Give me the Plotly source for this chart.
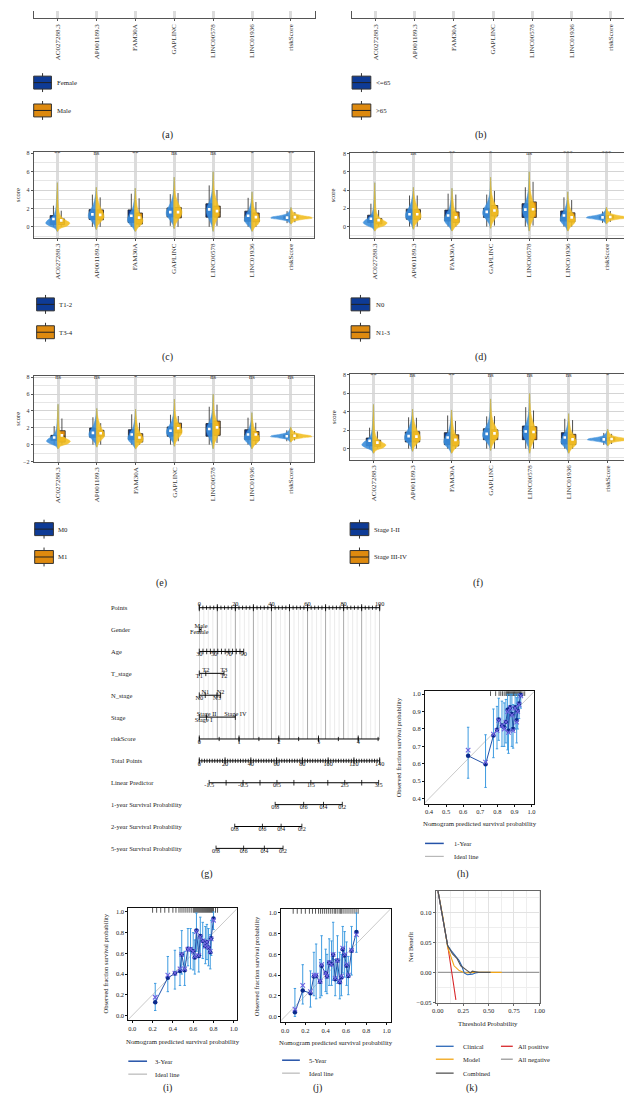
import plotly.graph_objects as go
import numpy as np

W, H = 632, 1093
FONT = "Liberation Serif"

# ---------------- data ----------------
genes = ["AC027288.3", "AP001189.3", "FAM30A", "GAPLINC", "LINC00578", "LINC01936", "riskScore"]

legend_a = ["Female", "Male"]
legend_b = ["<=65", ">65"]
legend_c = ["T1-2", "T3-4"]
legend_d = ["N0", "N1-3"]
legend_e = ["M0", "M1"]
legend_f = ["Stage I-II", "Stage III-IV"]

sig_c = ["**", "ns", "**", "ns", "ns", "*", "**"]
sig_d = ["**", "ns", "**", "*", "ns", "***", "***"]
sig_e = ["ns", "ns", "*", "*", "ns", "ns", "ns"]
sig_f = ["**", "ns", "**", "ns", "ns", "ns", "*"]

# box stats per gene: [lower whisker, q1, median, q3, upper whisker, mean]
box_c1 = [[0.0, 0.25, 0.8, 1.22, 2.3, 0.85], [0.0, 0.8, 1.4, 1.87, 3.5, 1.35], [0.0, 0.47, 1.2, 1.84, 3.6, 1.2],
          [0.1, 1.08, 1.55, 2.05, 3.55, 1.6], [0.0, 1.05, 1.95, 2.5, 4.5, 1.9], [0.0, 0.6, 1.25, 1.7, 3.15, 1.2],
          [0.4, 0.85, 1.0, 1.15, 1.7, 1.0]]
box_c2 = [[0.0, 0.25, 0.5, 0.86, 1.75, 0.7], [0.0, 0.76, 1.3, 1.84, 3.2, 1.3], [0.0, 0.3, 0.8, 1.5, 3.1, 1.0],
          [0.0, 0.97, 1.6, 2.1, 3.67, 1.6], [0.1, 1.05, 1.6, 2.25, 4.0, 1.7], [0.0, 0.55, 1.0, 1.5, 2.7, 1.05],
          [0.5, 0.9, 1.05, 1.2, 1.6, 1.05]]
box_d1 = [[0.0, 0.44, 0.8, 1.24, 2.5, 0.85], [0.0, 0.8, 1.38, 1.9, 3.4, 1.35], [0.0, 0.6, 1.2, 1.8, 3.6, 1.2],
          [0.0, 1.0, 1.6, 2.0, 3.5, 1.6], [0.0, 1.0, 1.95, 2.5, 4.3, 1.85], [0.0, 0.6, 1.25, 1.7, 3.2, 1.2],
          [0.4, 0.85, 1.0, 1.15, 1.65, 1.0]]
box_d2 = [[0.0, 0.29, 0.6, 0.87, 1.8, 0.7], [0.0, 0.8, 1.3, 1.85, 3.4, 1.35], [0.0, 0.45, 0.85, 1.6, 3.5, 1.0],
          [0.1, 1.15, 1.7, 2.3, 3.9, 1.75], [0.1, 1.0, 1.7, 2.7, 4.9, 1.9], [0.0, 0.5, 1.0, 1.5, 2.9, 1.0],
          [0.5, 0.9, 1.05, 1.2, 1.7, 1.05]]
box_e1 = [[0.0, 0.5, 0.8, 1.1, 2.2, 0.85], [0.0, 0.87, 1.4, 1.97, 3.25, 1.4], [0.0, 0.6, 1.2, 1.77, 3.6, 1.2],
          [0.0, 1.0, 1.65, 2.1, 3.55, 1.65], [0.0, 1.0, 1.9, 2.5, 4.5, 1.85], [0.0, 0.6, 1.2, 1.77, 3.2, 1.2],
          [0.4, 0.85, 1.0, 1.15, 1.7, 1.0]]
box_e2 = [[0.0, 0.3, 1.0, 1.65, 3.1, 1.1], [0.0, 1.0, 1.35, 1.7, 2.55, 1.35], [0.0, 0.3, 0.6, 1.3, 2.6, 0.85],
          [0.4, 1.4, 2.0, 2.55, 3.4, 1.95], [0.2, 1.1, 2.0, 2.8, 4.75, 2.05], [0.0, 0.47, 1.2, 1.55, 2.6, 1.2],
          [0.5, 0.9, 1.05, 1.2, 1.6, 1.05]]
box_f1 = [[0.0, 0.29, 0.72, 1.15, 2.27, 0.85], [0.0, 0.72, 1.33, 1.8, 3.4, 1.35], [0.0, 0.43, 1.19, 1.73, 3.6, 1.2],
          [0.0, 0.97, 1.6, 2.16, 3.5, 1.6], [0.0, 0.97, 1.87, 2.45, 4.5, 1.85], [0.0, 0.5, 1.2, 1.73, 3.24, 1.2],
          [0.4, 0.85, 1.0, 1.15, 1.7, 1.0]]
box_f2 = [[0.0, 0.25, 0.5, 0.9, 1.87, 0.65], [0.0, 0.72, 1.26, 1.84, 3.35, 1.3], [0.0, 0.29, 0.9, 1.5, 3.0, 0.95],
          [0.0, 0.97, 1.66, 2.05, 3.53, 1.65], [0.0, 0.97, 1.7, 2.38, 4.14, 1.8], [0.0, 0.43, 1.08, 1.55, 3.1, 1.0],
          [0.5, 0.9, 1.05, 1.2, 1.6, 1.05]]

# half-violin outlines per gene: score knots and half widths (category units)
vio_y = [[-0.5, -0.2, 0.1, 0.4, 0.7, 1.0, 1.4, 2.0, 3.0, 4.0, 4.8],
         [-0.3, 0.2, 0.6, 1.0, 1.4, 1.8, 2.4, 3.0, 3.6, 4.3],
         [-0.5, -0.1, 0.3, 0.7, 1.1, 1.5, 2.0, 2.8, 3.6, 4.2],
         [-0.2, 0.3, 0.8, 1.3, 1.7, 2.2, 2.8, 3.5, 4.3, 5.4],
         [-0.5, 0.2, 0.8, 1.4, 1.9, 2.4, 3.0, 3.8, 4.8, 6.0],
         [-0.5, -0.1, 0.3, 0.7, 1.1, 1.5, 2.0, 2.6, 3.2, 3.8],
         [0.3, 0.6, 0.8, 0.95, 1.05, 1.2, 1.4, 1.7, 2.1]]
vio_w1 = [[0, 0.05, 0.2, 0.3, 0.25, 0.15, 0.08, 0.04, 0.02, 0.008, 0],
          [0, 0.05, 0.12, 0.2, 0.2, 0.15, 0.08, 0.04, 0.015, 0],
          [0, 0.06, 0.15, 0.2, 0.18, 0.13, 0.07, 0.03, 0.01, 0],
          [0, 0.04, 0.12, 0.2, 0.2, 0.14, 0.07, 0.03, 0.012, 0],
          [0, 0.04, 0.1, 0.16, 0.17, 0.13, 0.07, 0.03, 0.012, 0],
          [0, 0.05, 0.14, 0.2, 0.18, 0.13, 0.07, 0.03, 0.01, 0],
          [0, 0.08, 0.3, 0.52, 0.5, 0.3, 0.12, 0.04, 0]]
vio_w2 = [[0, 0.06, 0.25, 0.32, 0.22, 0.12, 0.06, 0.03, 0.015, 0.006, 0],
          [0, 0.05, 0.13, 0.2, 0.19, 0.14, 0.08, 0.04, 0.015, 0],
          [0, 0.07, 0.17, 0.2, 0.16, 0.11, 0.06, 0.03, 0.01, 0],
          [0, 0.04, 0.11, 0.19, 0.2, 0.15, 0.08, 0.035, 0.015, 0],
          [0, 0.04, 0.1, 0.15, 0.16, 0.13, 0.08, 0.035, 0.015, 0],
          [0, 0.06, 0.16, 0.2, 0.17, 0.12, 0.06, 0.03, 0.01, 0],
          [0, 0.08, 0.3, 0.55, 0.52, 0.32, 0.13, 0.04, 0]]

# nomogram
nomo_rows = ["Points", "Gender", "Age", "T_stage", "N_stage", "Stage", "riskScore", "Total Points",
             "Linear Predictor", "1-year Survival Probability", "2-year Survival Probability",
             "5-year Survival Probability"]
points_labels = [0, 20, 40, 60, 80, 100]
gender_levels = ["Male", "Female"]
gender_pts = [1.0, 0.0]
age_labels = [30, 50, 70, 90]
age_ends = [30, 90]
age_ends_pts = [0.0, 24.6]
t_above = ["T2", "T3"]
t_above_pts = [3.6, 13.7]
t_below = ["T1", "T2"]
t_below_pts = [0.0, 13.7]
n_above = ["N1", "N2"]
n_above_pts = [3.3, 11.8]
n_below = ["N0", "N3"]
n_below_pts = [0.0, 9.8]
stage_above = ["Stage II", "Stage IV"]
stage_above_pts = [4.0, 20.0]
stage_below = ["Stage I"]
stage_below_pts = [2.4]
risk_labels = [0, 1, 2, 3, 4]
risk_ends = [0, 4.54]
risk_ends_pts = [0.0, 100.0]
total_labels = [0, 20, 40, 60, 80, 100, 120, 140]
lp_labels = [-1.5, -0.5, 0.5, 1.5, 2.5, 3.5]
lp_ends = [-1.5, 3.5]
lp_ends_total = [7.65, 139.2]
surv_labels = ["0.8", "0.6", "0.4", "0.2"]
surv1_total = [58.9, 81.0, 96.4, 111.0]
surv2_total = [27.5, 49.0, 63.5, 79.6]
surv5_total = [13.0, 34.4, 50.5, 65.0]

# calibration (h) 1-year
h_pred = [0.629, 0.731, 0.777, 0.798, 0.808, 0.827, 0.84, 0.85, 0.86, 0.865, 0.875, 0.885, 0.892, 0.904, 0.913, 0.919, 0.927, 0.937]
h_obs = [0.646, 0.597, 0.763, 0.795, 0.854, 0.82, 0.81, 0.84, 0.91, 0.79, 0.925, 0.886, 0.80, 0.925, 0.85, 0.905, 0.947, 0.996]
h_lo = [0.517, 0.464, 0.635, 0.686, 0.735, 0.70, 0.70, 0.72, 0.68, 0.66, 0.80, 0.70, 0.69, 0.80, 0.72, 0.80, 0.86, 0.92]
h_hi = [0.81, 0.767, 0.915, 0.93, 0.977, 0.96, 0.95, 0.97, 1.0, 0.92, 1.0, 1.0, 0.94, 1.0, 0.98, 1.0, 1.0, 1.0]
h_corr = [0.678, 0.61, 0.77, 0.79, 0.85, 0.82, 0.80, 0.84, 0.90, 0.78, 0.92, 0.88, 0.79, 0.92, 0.84, 0.90, 0.94, 0.99]
h_rug = [0.76, 0.79, 0.81, 0.82, 0.83, 0.84, 0.85, 0.855, 0.86, 0.865, 0.87, 0.875, 0.88, 0.885, 0.89, 0.895, 0.90,
         0.905, 0.91, 0.915, 0.92, 0.925, 0.93, 0.935, 0.94, 0.95, 0.96]
# calibration (i) 3-year
i_pred = [0.226, 0.35, 0.42, 0.47, 0.487, 0.516, 0.548, 0.574, 0.6, 0.616, 0.632, 0.655, 0.67, 0.694, 0.72, 0.735, 0.75, 0.768, 0.777, 0.8]
i_obs = [0.128, 0.364, 0.405, 0.43, 0.59, 0.438, 0.645, 0.64, 0.62, 0.56, 0.82, 0.575, 0.767, 0.72, 0.67, 0.71, 0.655, 0.61, 0.745, 0.936]
i_lo = [0.048, 0.23, 0.255, 0.29, 0.40, 0.29, 0.48, 0.45, 0.44, 0.40, 0.62, 0.42, 0.58, 0.55, 0.50, 0.54, 0.48, 0.45, 0.58, 0.83]
i_hi = [0.31, 0.57, 0.63, 0.655, 0.82, 0.62, 0.84, 0.84, 0.80, 0.73, 0.99, 0.75, 0.95, 0.90, 0.86, 0.88, 0.84, 0.78, 0.92, 1.0]
i_corr = [0.176, 0.39, 0.41, 0.45, 0.59, 0.45, 0.64, 0.64, 0.62, 0.57, 0.81, 0.58, 0.76, 0.72, 0.67, 0.71, 0.66, 0.62, 0.74, 0.92]
i_rug = [0.2, 0.24, 0.28, 0.32, 0.36, 0.4, 0.43, 0.46, 0.48, 0.5, 0.52, 0.54, 0.56, 0.58, 0.6, 0.61, 0.62, 0.63, 0.64,
         0.65, 0.66, 0.67, 0.68, 0.69, 0.7, 0.71, 0.72, 0.73, 0.74, 0.75, 0.76, 0.77, 0.78, 0.79, 0.8, 0.82, 0.84]
# calibration (j) 5-year
j_pred = [0.097, 0.174, 0.25, 0.284, 0.306, 0.345, 0.36, 0.40, 0.413, 0.435, 0.458, 0.474, 0.494, 0.516, 0.539, 0.555, 0.568, 0.587, 0.606, 0.623, 0.655, 0.703]
j_obs = [0.04, 0.25, 0.225, 0.386, 0.39, 0.335, 0.49, 0.42, 0.386, 0.52, 0.505, 0.595, 0.36, 0.54, 0.33, 0.377, 0.65, 0.59, 0.49, 0.39, 0.635, 0.815]
j_lo = [0.0, 0.12, 0.09, 0.2, 0.17, 0.18, 0.2, 0.24, 0.22, 0.3, 0.3, 0.35, 0.2, 0.32, 0.17, 0.2, 0.42, 0.38, 0.3, 0.21, 0.4, 0.62]
j_hi = [0.27, 0.5, 0.44, 0.62, 0.70, 0.55, 0.78, 0.65, 0.6, 0.75, 0.73, 0.91, 0.55, 0.78, 0.62, 0.6, 0.87, 0.82, 0.72, 0.58, 0.87, 1.0]
j_corr = [0.07, 0.3, 0.24, 0.4, 0.4, 0.34, 0.5, 0.42, 0.39, 0.52, 0.5, 0.6, 0.37, 0.54, 0.34, 0.39, 0.66, 0.6, 0.5, 0.4, 0.64, 0.79]
j_rug = [0.08, 0.12, 0.16, 0.2, 0.24, 0.27, 0.3, 0.33, 0.35, 0.37, 0.39, 0.41, 0.43, 0.45, 0.47, 0.49, 0.5, 0.52,
         0.54, 0.55, 0.56, 0.58, 0.6, 0.62, 0.64, 0.66, 0.68, 0.7, 0.72]

# decision curves (k)
dca_allpos_x = [0, 0.05, 0.10, 0.15, 0.178]
dca_allpos_y = [0.138, 0.093, 0.042, -0.014, -0.046]
dca_none_x = [0, 1]
dca_none_y = [0, 0]
dca_clin_x = [0, 0.05, 0.097, 0.13, 0.177, 0.21, 0.235, 0.26, 0.29, 0.34, 0.37, 0.40]
dca_clin_y = [0.138, 0.093, 0.045, 0.037, 0.028, 0.02, 0.011, -0.001, -0.004, -0.003, -0.001, 0.0]
dca_model_x = [0, 0.05, 0.097, 0.13, 0.16, 0.21, 0.27, 0.35, 0.45, 0.63]
dca_model_y = [0.138, 0.093, 0.042, 0.025, 0.011, 0.003, -0.001, 0.0, 0.0, 0.0]
dca_comb_x = [0, 0.05, 0.097, 0.145, 0.19, 0.226, 0.26, 0.29, 0.32, 0.34, 0.4, 0.52]
dca_comb_y = [0.138, 0.093, 0.045, 0.031, 0.023, 0.011, 0.006, 0.003, -0.001, 0.002, 0.0, 0.0]

# ---------------- helpers ----------------
BLUE_BOX = "#0E3B96"
ORANGE_BOX = "#DE8A0F"
BLUE_VIO = "#3B8EDB"
GOLD_VIO = "#F3BF23"

fig = go.Figure()
ann = []
shapes = []
layout = dict(width=W, height=H, margin=dict(l=0, r=0, t=0, b=0), paper_bgcolor="white",
              plot_bgcolor="white", showlegend=False, font=dict(family=FONT, size=7, color="#222"))


def dom_x(a, b):
    return [max(0, a / W), min(1, b / W)]


def dom_y(top, bottom):
    return [max(0, 1 - bottom / H), min(1, 1 - top / H)]


def px(p):
    return p / W


def py(p):
    return 1 - p / H


def text(x, y, s, size=7, xanchor="center", yanchor="middle", angle=0, color="#222"):
    ann.append(dict(x=px(x), y=py(y), xref="paper", yref="paper", text=s, showarrow=False,
                    font=dict(size=size, family=FONT, color=color), xanchor=xanchor, yanchor=yanchor,
                    textangle=angle))


def legend_box(x0, x1, yc, fill):
    h = 6.5
    xc = (x0 + x1) / 2
    shapes.append(dict(type="line", xref="paper", yref="paper", x0=px(xc), x1=px(xc), y0=py(yc - h - 3),
                       y1=py(yc + h + 3), line=dict(color="#333", width=1)))
    shapes.append(dict(type="rect", xref="paper", yref="paper", x0=px(x0), x1=px(x1), y0=py(yc - h),
                       y1=py(yc + h), fillcolor=fill, line=dict(color="#333", width=1)))
    shapes.append(dict(type="line", xref="paper", yref="paper", x0=px(x0), x1=px(x1), y0=py(yc),
                       y1=py(yc), line=dict(color="#222", width=1)))


def violin_panel(n, left, right, c0, c6, top, bottom, y0px=None, y8px=None, b1=None, b2=None, sig=None):
    u = (c6 - c0) / 6
    xr = [-(c0 - left) / u, 6 + (right - c6) / u]
    xa, ya = f"x{n}", f"y{n}"
    layout[f"xaxis{n}"] = dict(domain=dom_x(left, right), range=xr, anchor=ya, tickvals=list(range(7)),
                               ticktext=genes, tickangle=-90, tickfont=dict(size=7, color="#333"),
                               showgrid=True, gridcolor="#DCDCDC", gridwidth=2.5, showline=True,
                               linecolor="#555", linewidth=1, mirror=(y0px is not None), ticks="outside",
                               ticklen=2, tickcolor="#555", zeroline=False)
    if y0px is None:
        layout[f"yaxis{n}"] = dict(domain=dom_y(top, bottom), range=[0, 1], anchor=xa, showgrid=False,
                                   showticklabels=False, showline=True, linecolor="#555", mirror=True,
                                   zeroline=False, ticks="")
        fig.add_trace(go.Scatter(x=[0], y=[-5], mode="markers", xaxis=xa, yaxis=ya, hoverinfo="skip"))
        return
    v = (y0px - y8px) / 8
    yr = [-(bottom - y0px) / v, 8 + (y8px - top) / v]
    layout[f"yaxis{n}"] = dict(domain=dom_y(top, bottom), range=yr, anchor=xa, tickvals=[-2, 0, 2, 4, 6, 8],
                               tickfont=dict(size=6, color="#333"), showgrid=True, gridcolor="#D4D4D4",
                               gridwidth=1, minor=dict(dtick=1, tick0=0, showgrid=True, gridcolor="#E6E6E6",
                                                       gridwidth=0.8),
                               showline=True, linecolor="#555", linewidth=1, mirror=True, ticks="outside",
                               ticklen=2, tickcolor="#555", zeroline=False)
    # violins
    for i in range(7):
        ys = vio_y[i]
        for ws, side, col in ((vio_w1[i], -1, BLUE_VIO), (vio_w2[i], 1, GOLD_VIO)):
            xs = [i + side * w for w in ws] + [i]
            yy = list(ys) + [ys[0]]
            fig.add_trace(go.Scatter(x=xs, y=yy, mode="lines", fill="toself", fillcolor=col,
                                     line=dict(color=col, width=0.5, shape="spline", smoothing=0.8),
                                     opacity=0.9, xaxis=xa, yaxis=ya, hoverinfo="skip"))
    # boxes
    for stats, off, col in ((b1, -0.1, BLUE_BOX), (b2, 0.1, ORANGE_BOX)):
        pos = [i + off for i in range(7)]
        fig.add_trace(go.Box(x=pos, lowerfence=[s[0] for s in stats], q1=[s[1] for s in stats],
                             median=[s[2] for s in stats], q3=[s[3] for s in stats],
                             upperfence=[s[4] for s in stats], orientation="v", width=0.17,
                             fillcolor=col, line=dict(color="#222", width=0.8), whiskerwidth=0,
                             xaxis=xa, yaxis=ya, hoverinfo="skip"))
        fig.add_trace(go.Scatter(x=pos, y=[s[5] for s in stats], mode="markers",
                                 marker=dict(symbol="square", size=2.6, color="white",
                                             line=dict(width=0)), xaxis=xa, yaxis=ya, hoverinfo="skip"))
    fig.add_trace(go.Scatter(x=list(range(7)), y=[8] * 7, mode="text", text=sig,
                             textfont=dict(size=6.5, family=FONT, color="#333"), textposition="middle center",
                             cliponaxis=False, xaxis=xa, yaxis=ya, hoverinfo="skip"))


# ---------------- (a)-(f) ----------------
violin_panel(1, 22, 307, 46, 283, 0, 7.5)
violin_panel(2, 345, 631, 369, 607, 0, 7.5)
violin_panel(3, 22, 306, 46, 283, 142, 228, 217, 143, box_c1, box_c2, sig_c)
violin_panel(4, 343, 622, 368, 603, 143, 228, 216.7, 143.3, box_d1, box_d2, sig_d)
violin_panel(5, 22, 306, 46.7, 282.7, 367, 453, 436, 368.3, box_e1, box_e2, sig_e)
violin_panel(6, 343, 627, 366.7, 604.3, 365, 451, 440, 366, box_f1, box_f2, sig_f)

for (x0, x1, lx, y1, y2, labs) in ((22, 40, 44, 72, 100, legend_a), (345, 364, 367, 72, 100, legend_b),
                                    (25, 43, 46, 295, 323, legend_c), (344, 363, 367, 295, 323, legend_d),
                                    (23, 42, 45, 521, 549, legend_e), (343, 362, 365, 521, 549, legend_f)):
    legend_box(x0, x1, y1, BLUE_BOX)
    legend_box(x0, x1, y2, ORANGE_BOX)
    text(lx, y1, labs[0], size=6.8, xanchor="left")
    text(lx, y2, labs[1], size=6.8, xanchor="left")

for (x, y) in ((6, 185), (326, 185), (6, 410), (326, 408)):
    text(x, y, "score", size=6.5, angle=-90)

# ---------------- (g) nomogram ----------------
layout["xaxis7"] = dict(domain=dom_x(190, 373), range=[0, 100], anchor="y7", visible=False)
layout["xaxis8"] = dict(range=[0, 140], overlaying="x7", anchor="y7", visible=False)
layout["yaxis7"] = dict(domain=dom_y(590, 852), range=[11.4545, -0.4545], anchor="x7", visible=False)


def nl(xa, row, x0, x1):
    fig.add_trace(go.Scatter(x=[x0, x1], y=[row, row], mode="lines", line=dict(color="black", width=1),
                             xaxis=xa, yaxis="y7", hoverinfo="skip"))


def nt(xa, row, xs, size=4):
    fig.add_trace(go.Scatter(x=list(xs), y=[row] * len(xs), mode="markers",
                             marker=dict(symbol="line-ns", size=size, line=dict(width=0.8, color="black")),
                             xaxis=xa, yaxis="y7", hoverinfo="skip", cliponaxis=False))


def nlab(xa, row, xs, labs, pos="bottom center", size=6.3):
    fig.add_trace(go.Scatter(x=list(xs), y=[row] * len(xs), mode="text", text=[str(s) for s in labs],
                             textposition=pos, textfont=dict(size=size, family=FONT, color="#111"),
                             xaxis=xa, yaxis="y7", hoverinfo="skip", cliponaxis=False))


# grid lines
gx_light, gy_light, gx_dark, gy_dark = [], [], [], []
for g in np.arange(0, 100.01, 2.5):
    if abs(g % 10) < 1e-9:
        gx_dark += [g, g, None]
        gy_dark += [0, 6, None]
    else:
        gx_light += [g, g, None]
        gy_light += [0, 6, None]
fig.add_trace(go.Scatter(x=gx_light, y=gy_light, mode="lines", line=dict(color="#DDDDDD", width=0.6),
                         xaxis="x7", yaxis="y7", hoverinfo="skip"))
fig.add_trace(go.Scatter(x=gx_dark, y=gy_dark, mode="lines", line=dict(color="#AAAAAA", width=1),
                         xaxis="x7", yaxis="y7", hoverinfo="skip"))

for r, name in enumerate(nomo_rows):
    text(98, 600 + 22 * r, name, size=6.5, xanchor="left")

# Points
nl("x7", 0, 0, 100)
nt("x7", 0, np.arange(0, 100.01, 2), 3)
nt("x7", 0, np.arange(0, 100.01, 10), 5)
nlab("x7", 0, points_labels, points_labels, pos="top center")
# Gender
nl("x7", 1, min(gender_pts), max(gender_pts))
nt("x7", 1, gender_pts, 4)
nlab("x7", 1, [gender_pts[0]], [gender_levels[0]], pos="top center")
nlab("x7", 1, [gender_pts[1]], [gender_levels[1]], pos="bottom center")
# Age
age_minor = np.arange(age_ends[0], age_ends[1] + 0.01, 5)
nl("x7", 2, age_ends_pts[0], age_ends_pts[1])
nt("x7", 2, np.interp(age_minor, age_ends, age_ends_pts), 4)
nlab("x7", 2, np.interp(age_labels, age_ends, age_ends_pts), age_labels)
# T stage
nl("x7", 3, 0, max(t_above_pts + t_below_pts))
nt("x7", 3, sorted(set(t_above_pts + t_below_pts)), 4)
nlab("x7", 3, t_above_pts, t_above, pos="top center")
nlab("x7", 3, t_below_pts, t_below, pos="bottom center")
# N stage
nl("x7", 4, 0, max(n_above_pts + n_below_pts))
nt("x7", 4, sorted(set(n_above_pts + n_below_pts)), 4)
nlab("x7", 4, n_above_pts, n_above, pos="top center")
nlab("x7", 4, n_below_pts, n_below, pos="bottom center")
# Stage
nl("x7", 5, 0, max(stage_above_pts))
nt("x7", 5, [0] + stage_above_pts, 4)
nlab("x7", 5, stage_above_pts, stage_above, pos="top center")
nlab("x7", 5, stage_below_pts, stage_below, pos="bottom center")
# riskScore
risk_minor = np.arange(0, risk_ends[1], 0.5)
nl("x7", 6, risk_ends_pts[0], risk_ends_pts[1])
nt("x7", 6, np.interp(risk_minor, risk_ends, risk_ends_pts), 3)
nt("x7", 6, np.interp(risk_labels, risk_ends, risk_ends_pts), 5)
nlab("x7", 6, np.interp(risk_labels, risk_ends, risk_ends_pts), risk_labels)
# Total points
nl("x8", 7, 0, 140)
nt("x8", 7, np.arange(0, 140.01, 2), 3)
nt("x8", 7, total_labels, 5)
nlab("x8", 7, total_labels, total_labels)
# Linear predictor
lp_minor = np.arange(lp_ends[0], lp_ends[1] + 0.01, 0.5)
nl("x8", 8, lp_ends_total[0], lp_ends_total[1])
nt("x8", 8, np.interp(lp_minor, lp_ends, lp_ends_total), 4)
nlab("x8", 8, np.interp(lp_labels, lp_ends, lp_ends_total), lp_labels)
# survival
for row, tp in ((9, surv1_total), (10, surv2_total), (11, surv5_total)):
    nl("x8", row, tp[0], tp[-1])
    nt("x8", row, tp, 4)
    nlab("x8", row, tp, surv_labels)

# ---------------- calibration (h)(i)(j) ----------------
CAL_LINE = "#2452A8"
CAL_DOT = "#0B2A8C"
CAL_ERR = "#3E9BE0"
CAL_X = "#6F63E0"


def calib(n, left, right, top, bottom, xr, yr, ticks, pred, obs, lo, hi, corr, rug):
    xa, ya = f"x{n}", f"y{n}"
    common = dict(showline=True, mirror=True, linecolor="#111", linewidth=1, ticks="outside", ticklen=2,
                  tickcolor="#111", tickfont=dict(size=6.5, color="#222"), showgrid=False, zeroline=False,
                  tickvals=ticks, tickformat=".1f")
    layout[f"xaxis{n}"] = dict(domain=dom_x(left, right), range=xr, anchor=ya, **common)
    layout[f"yaxis{n}"] = dict(domain=dom_y(top, bottom), range=yr, anchor=xa, **common)
    fig.add_trace(go.Scatter(x=[-0.1, 1.1], y=[-0.1, 1.1], mode="lines", line=dict(color="#BBBBBB", width=0.8),
                             xaxis=xa, yaxis=ya, hoverinfo="skip"))
    span = yr[1] - yr[0]
    fig.add_trace(go.Scatter(x=rug, y=[yr[1] - 0.02 * span] * len(rug), mode="markers",
                             marker=dict(symbol="line-ns", size=3.5, line=dict(width=0.7, color="#111")),
                             xaxis=xa, yaxis=ya, hoverinfo="skip"))
    err_p = [h - o for h, o in zip(hi, obs)]
    err_m = [o - l for o, l in zip(obs, lo)]
    fig.add_trace(go.Scatter(x=pred, y=obs, mode="lines+markers", line=dict(color=CAL_LINE, width=1),
                             marker=dict(size=4.5, color=CAL_DOT),
                             error_y=dict(type="data", symmetric=False, array=err_p, arrayminus=err_m,
                                          color=CAL_ERR, thickness=1, width=1.2),
                             xaxis=xa, yaxis=ya, hoverinfo="skip"))
    fig.add_trace(go.Scatter(x=pred, y=corr, mode="markers",
                             marker=dict(symbol="x-thin", size=4.5, line=dict(width=1.1, color=CAL_X)),
                             xaxis=xa, yaxis=ya, hoverinfo="skip"))


calib(9, 419, 530, 684, 797, [0.377, 1.017], [0.371, 1.017], [0.4, 0.5, 0.6, 0.7, 0.8, 0.9, 1.0],
      h_pred, h_obs, h_lo, h_hi, h_corr, h_rug)
calib(10, 118, 228, 902, 1015, [-0.039, 1.029], [-0.048, 1.038], [0, 0.2, 0.4, 0.6, 0.8, 1.0],
      i_pred, i_obs, i_lo, i_hi, i_corr, i_rug)
calib(11, 273, 384, 903, 1017, [-0.039, 1.039], [-0.058, 1.038], [0, 0.2, 0.4, 0.6, 0.8, 1.0],
      j_pred, j_obs, j_lo, j_hi, j_corr, j_rug)

YT = "Observed fraction survival probability"
XT = "Nomogram predicted survival probability"
text(393, 740, YT, size=6.5, angle=-90)
text(475, 817, XT, size=6.8)
text(95, 958, YT, size=6.5, angle=-90)
text(173, 1036, XT, size=6.8)
text(248, 960, YT, size=6.5, angle=-90)
text(329, 1037, XT, size=6.8)


def leg_line(x0, x1, y, color, width=1.5):
    shapes.append(dict(type="line", xref="paper", yref="paper", x0=px(x0), x1=px(x1), y0=py(y), y1=py(y),
                       line=dict(color=color, width=width)))


for (x0, x1, tx, y1, lab) in ((419, 438, 446, 837, "1-Year"), (118, 137, 143, 1056, "3-Year"),
                              (274, 292, 299, 1055, "5-Year")):
    leg_line(x0, x1, y1, CAL_LINE, 1.5)
    leg_line(x0, x1, y1 + 13, "#AAAAAA", 1)
    text(tx, y1, lab, size=6.5, xanchor="left")
    text(tx, y1 + 13, "Ideal line", size=6.5, xanchor="left")

# ---------------- (k) DCA ----------------
layout["xaxis12"] = dict(domain=dom_x(430, 536), range=[-0.019, 1.01], anchor="y12",
                         tickvals=[0, 0.25, 0.5, 0.75, 1.0], tickformat=".2f",
                         showgrid=True, gridcolor="#E2E2E2", gridwidth=0.8,
                         minor=dict(dtick=0.125, tick0=0, showgrid=True, gridcolor="#EEEEEE"),
                         showline=True, mirror=True, linecolor="#666", linewidth=1, ticks="outside",
                         ticklen=2, tickcolor="#666", tickfont=dict(size=6.5), zeroline=False)
layout["yaxis12"] = dict(domain=dom_y(885, 997), range=[-0.0505, 0.136], anchor="x12",
                         tickvals=[-0.05, 0, 0.05, 0.10], tickformat=".2f",
                         showgrid=True, gridcolor="#E2E2E2", gridwidth=0.8,
                         minor=dict(dtick=0.025, tick0=0, showgrid=True, gridcolor="#EEEEEE"),
                         showline=True, mirror=True, linecolor="#666", linewidth=1, ticks="outside",
                         ticklen=2, tickcolor="#666", tickfont=dict(size=6.5), zeroline=False)
C_CLIN, C_MODEL, C_COMB, C_POS, C_NEG = "#2A67B8", "#F2A516", "#555555", "#D8282B", "#9A9A9A"
for xs, ys, col in ((dca_none_x, dca_none_y, C_NEG), (dca_allpos_x, dca_allpos_y, C_POS),
                    (dca_model_x, dca_model_y, C_MODEL), (dca_clin_x, dca_clin_y, C_CLIN),
                    (dca_comb_x, dca_comb_y, C_COMB)):
    fig.add_trace(go.Scatter(x=xs, y=ys, mode="lines", line=dict(color=col, width=1.1),
                             xaxis="x12", yaxis="y12", hoverinfo="skip"))
text(405, 941, "Net Benefit", size=6.5, angle=-90)
text(483, 1018, "Threshold Probability", size=6.8)
for (x0, x1, tx, y, lab, col) in ((430, 448, 455, 1041, "Clinical", C_CLIN), (496, 508, 511, 1041, "All positive", C_POS),
                                  (430, 448, 455, 1054, "Model", C_MODEL), (496, 508, 511, 1054, "All negative", C_NEG),
                                  (430, 448, 455, 1068, "Combined", C_COMB)):
    leg_line(x0, x1, y, col, 1.3)
    text(tx, y, lab, size=6.5, xanchor="left")

# panel labels
for (x, y, s) in ((158, 125, "(a)"), (476, 125, "(b)"), (158, 348, "(c)"), (476, 348, "(d)"),
                  (152, 575, "(e)"), (473, 575, "(f)"), (198, 868, "(g)"), (458, 868, "(h)"),
                  (158, 1083, "(i)"), (310, 1083, "(j)"), (467, 1083, "(k)")):
    text(x, y, s, size=10)

layout["annotations"] = ann
layout["shapes"] = shapes
fig.update_layout(**layout)
fig.write_html("out.html")
